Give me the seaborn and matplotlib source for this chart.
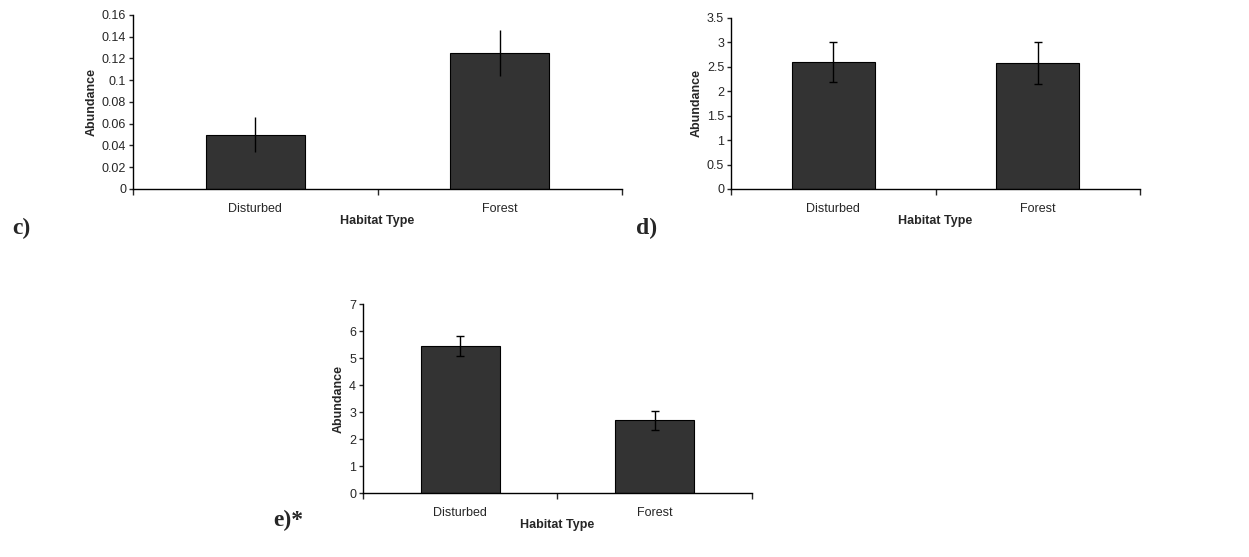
import seaborn as sns
import matplotlib.pyplot as plt
import pandas as pd

habitats = ["Disturbed", "Forest"]

# panel c
c_mean = [0.05, 0.125]
c_err = [0.016, 0.021]
# panel d
d_mean = [2.6, 2.57]
d_err = [0.40, 0.43]
# panel e
e_mean = [5.45, 2.70]
e_err = [0.37, 0.35]

sns.set_style("white")
plt.rcParams['font.family'] = ['Liberation Sans', 'DejaVu Sans']

fig = plt.figure(figsize=(12.49, 5.57), dpi=100)

panels = [
    ("c)", c_mean, c_err, [0.1065, 0.6607, 0.3915, 0.3124], (0, 0.16), 0.02, False, (0.010, 0.590)),
    ("d)", d_mean, d_err, [0.5853, 0.6607, 0.3275, 0.3070], (0, 3.5), 0.5, True, (0.509, 0.590)),
    ("e)*", e_mean, e_err, [0.2906, 0.1149, 0.3114, 0.3393], (0, 7), 1, True, (0.219, 0.066)),
]

for tag, means, errs, pos, ylim, step, caps, tagpos in panels:
    ax = fig.add_axes(pos)
    df = pd.DataFrame({"Habitat Type": habitats, "Abundance": means})
    sns.barplot(data=df, x="Habitat Type", y="Abundance", ax=ax,
                color="#333333", edgecolor="black", linewidth=0.8,
                width=0.405, saturation=1, errorbar=None)
    ax.errorbar(range(len(means)), means, yerr=errs, fmt="none",
                ecolor="black", elinewidth=1, capsize=3 if caps else 0)
    ax.set_xlim(-0.5, 1.5)
    ax.set_ylim(*ylim)
    n = int(round(ylim[1] / step))
    yt = [i * step for i in range(n + 1)]
    ax.set_yticks(yt)
    ax.set_yticklabels([f"{v:g}" for v in yt], fontsize=9)
    ax.set_xticks([0, 1])
    ax.set_xticklabels(habitats, fontsize=9)
    ax.set_xticks([-0.5, 0.5, 1.5], minor=True)
    ax.tick_params(axis="x", which="major", length=0, pad=10)
    ax.tick_params(axis="x", which="minor", length=4, width=1, direction="out", bottom=True)
    ax.tick_params(axis="y", length=3, width=1, direction="out", left=True, pad=2)
    for s in ["top", "right"]:
        ax.spines[s].set_visible(False)
    for s in ["left", "bottom"]:
        ax.spines[s].set_color("black")
        ax.spines[s].set_linewidth(1)
    ax.set_xlabel("Habitat Type", fontsize=9, fontweight="bold", labelpad=0)
    ax.set_ylabel("Abundance", fontsize=9, fontweight="bold", labelpad=3)
    fig.text(tagpos[0], tagpos[1], tag, fontsize=17, fontweight="bold",
             family="Liberation Serif", ha="left", va="center")

fig.savefig("out.png", dpi=100)
